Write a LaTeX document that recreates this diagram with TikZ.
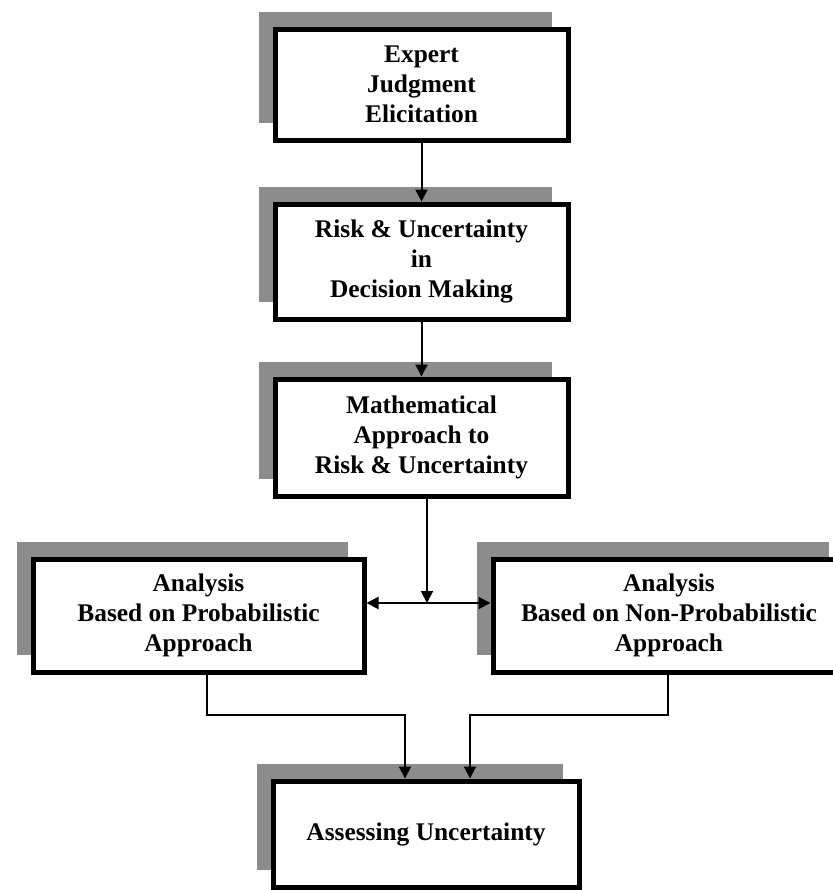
\documentclass[tikz,border=0pt]{standalone}
\usepackage{fontspec}
\setmainfont{Liberation Serif}
\usetikzlibrary{arrows.meta,shadows}

\begin{document}
\begin{tikzpicture}[x=0.5pt,y=-0.5pt,inner sep=1mm]
    \tikzstyle{block}=[rectangle,draw=black,line width=2.5pt,fill=white,align=center,
        font=\fontsize{12.7}{15}\selectfont\bfseries,
        general shadow={shadow xshift=-8pt,shadow yshift=8.5pt,fill=black!45,draw=none}]
    \tikzstyle{link}=[line width=1pt,-{Triangle[length=6pt,width=6pt]}]
    \clip (0,0) rectangle (833,890);

    \node[block,minimum width=146.5pt,minimum height=55.5pt] (expert) at (421.5,84.5) {Expert\\Judgment\\Elicitation};
    \node[block,minimum width=146.5pt,minimum height=57.5pt] (risk) at (421.5,261.5) {Risk \& Uncertainty\\in\\Decision Making};
    \node[block,minimum width=146.5pt,minimum height=58.5pt] (math) at (421.5,437.5) {Mathematical\\Approach to\\Risk \& Uncertainty};
    \node[block,minimum width=165.5pt,minimum height=56.5pt] (prob) at (198.5,615.5) {Analysis\\Based on Probabilistic\\Approach};
    \node[block,minimum width=176pt,minimum height=56.5pt] (nonprob) at (669,615.5) {Analysis\\Based on Non-Probabilistic\\Approach};
    \node[block,minimum width=153pt,minimum height=53pt] (assess) at (426,834) {Assessing Uncertainty};

    \foreach \a/\b in {expert/risk,risk/math} {
        \draw[link] (\a) -- (\b);
    };

    \coordinate (split) at (427,603);
    \draw[link] (math.south -| split) -- (split);
    \draw[link] (split) -- (split -| prob.east);
    \draw[link] (split) -- (split -| nonprob.west);

    \coordinate (pbend) at (207,715);
    \coordinate (pin) at (405,715);
    \coordinate (nbend) at (668,715);
    \coordinate (nin) at (470,715);
    \draw[link] (prob.south -| pbend) -- (pbend) -- (pin) -- (pin |- assess.north);
    \draw[link] (nonprob.south -| nbend) -- (nbend) -- (nin) -- (nin |- assess.north);
\end{tikzpicture}
\end{document}
